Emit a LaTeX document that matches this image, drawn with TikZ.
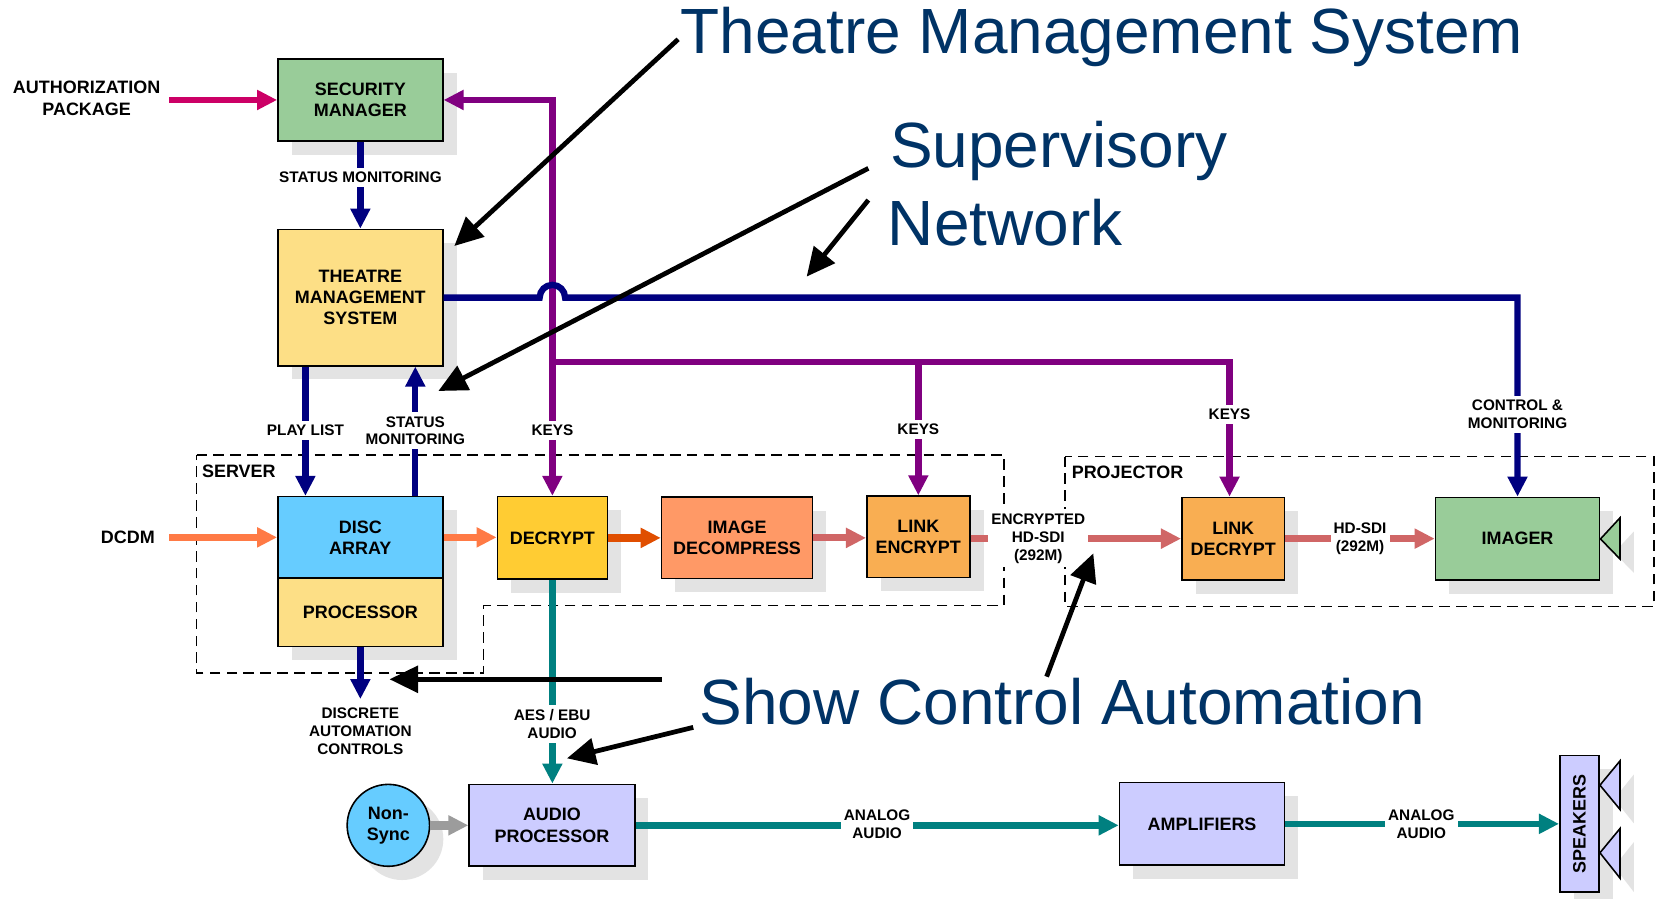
\documentclass[tikz,border=0pt]{standalone}
\usepackage{fontspec}
\setmainfont{Liberation Sans}
\usetikzlibrary{arrows.meta,shapes.geometric,shadows,calc}

\definecolor{navyc}{HTML}{000080}
\definecolor{purpc}{HTML}{800080}
\definecolor{authc}{HTML}{CC0066}
\definecolor{tealc}{HTML}{008080}
\definecolor{orA}{HTML}{FF7A45}
\definecolor{orB}{HTML}{E04E00}
\definecolor{pinkc}{HTML}{D06666}
\definecolor{grayc}{HTML}{9C9C9C}
\definecolor{titlec}{HTML}{003366}
\definecolor{shadec}{HTML}{E3E3E3}
\definecolor{greenf}{HTML}{99CC99}
\definecolor{yellf}{HTML}{FDDF86}
\definecolor{bluef}{HTML}{66CCFF}
\definecolor{goldf}{HTML}{FFCC33}
\definecolor{salmf}{HTML}{FF9966}
\definecolor{linkf}{HTML}{F9AE52}
\definecolor{lavf}{HTML}{CCCCFF}

\newcommand{\dgBoxFont}{\fontsize{17}{20}\selectfont\bfseries}
\newcommand{\dgLblFont}{\fontsize{14.5}{17}\selectfont\bfseries}
\newcommand{\dgTitleFont}{\fontsize{60.5}{72}\selectfont}

\tikzset{
  blk/.style={draw=black, line width=1.5pt, inner sep=0pt, align=center, font=\dgBoxFont,
    drop shadow={shadow xshift=13pt, shadow yshift=-13pt, opacity=1, fill=shadec}},
  lbl/.style={fill=white, inner xsep=3pt, inner ysep=4pt, align=center, font=\dgLblFont},
  plain/.style={inner sep=2pt, align=center, font=\dgBoxFont},
  arr/.style={-{Triangle[length=19pt,width=18pt]}},
  navyl/.style={draw=navyc, line width=6pt},
  purpl/.style={draw=purpc, line width=6pt},
  teall/.style={draw=tealc, line width=6pt},
  ann/.style={draw=black, line width=4.5pt, -{Triangle[length=27pt,width=25pt]}},
  ttl/.style={font=\dgTitleFont, text=titlec, inner sep=0pt, anchor=base west},
  dashbox/.style={draw=black, line width=1.6pt, dash pattern=on 10pt off 6pt},
  spkshade/.style={fill=shadec},
  spktri/.style={draw=black, line width=1.5pt, fill=lavf, line join=miter},
}

\begin{document}
\begin{tikzpicture}[x=1pt, y=-1pt]
\useasboundingbox[fill=white] (0,0) rectangle (1568,850);

% ---------- dashed regions ----------
\draw[dashbox] (186,430.6) -- (950,430.6) -- (950,573) -- (457.5,573) -- (457.5,637) -- (186,637) -- cycle;
\draw[dashbox] (1008,432) rectangle (1565,574);

% ---------- boxes ----------
\node[blk, fill=greenf, minimum width=156pt, minimum height=77.6pt] (sm) at (341,94.6) {SECURITY\\MANAGER};
\node[blk, fill=yellf, minimum width=156pt, minimum height=129pt] (tms) at (341,281.6) {THEATRE\\MANAGEMENT\\SYSTEM};
\node[blk, fill=bluef, minimum width=156pt, minimum height=77pt] (disc) at (341,508.5) {DISC\\ARRAY};
\node[blk, fill=yellf, minimum width=156pt, minimum height=65pt] (proc) at (341,579.3) {PROCESSOR};
\node[blk, fill=goldf, minimum width=104pt, minimum height=78pt] (decrypt) at (522.7,509) {DECRYPT};
\node[blk, fill=salmf, minimum width=143pt, minimum height=77pt] (decomp) at (697.5,509) {IMAGE\\DECOMPRESS};
\node[blk, fill=linkf, minimum width=97.5pt, minimum height=77pt] (lenc) at (869,508) {LINK\\ENCRYPT};
\node[blk, fill=linkf, minimum width=97.3pt, minimum height=78pt] (ldec) at (1167,509.7) {LINK\\DECRYPT};
\node[blk, fill=greenf, minimum width=155.3pt, minimum height=78pt] (imager) at (1436,509.7) {IMAGER};
\node[blk, fill=lavf, minimum width=156.7pt, minimum height=77.5pt] (audio) at (522.3,781) {AUDIO\\PROCESSOR};
\node[blk, fill=lavf, minimum width=156.3pt, minimum height=78pt] (amps) at (1137.5,779.6) {AMPLIFIERS};
\node[blk, ellipse, fill=bluef, minimum width=78pt, minimum height=77.5pt] (ns) at (367.5,781) {Non-\\Sync};
\node[blk, fill=lavf, minimum width=37pt, minimum height=129pt] (spk) at (1494.5,779.5) {};
\node[plain, rotate=90] (spkt) at (spk.center) {SPEAKERS};

% lens / speaker cones with shadows
\fill[spkshade] (1527.5,523) -- (1546,503) -- (1546,542) -- cycle;
\draw[spktri, fill=greenf] (1514.5,510) -- (1533,490) -- (1533,529) -- cycle;
\fill[spkshade] (1527.5,756) -- (1546,733) -- (1546,779) -- cycle;
\fill[spkshade] (1527.5,820) -- (1546,797) -- (1546,844) -- cycle;
\draw[spktri] (1514,743) -- (1533,720) -- (1533,766) -- cycle;
\draw[spktri] (1514,807) -- (1533,784) -- (1533,831) -- cycle;

% ---------- helper coordinates ----------
\coordinate (authout) at (160,94.6);
\coordinate (dcdmout) at (160,508.5);
\coordinate (plx) at (289,0);
\coordinate (smx) at (393,0);
\coordinate (k3) at (1163.5,0);
\coordinate (pj) at (522.7,342.8);

% ---------- connectors ----------
\draw[draw=authc, line width=5.5pt, arr] (authout) -- (sm.west);
\draw[navyc, line width=6pt, arr] (sm.south) -- (tms.north);
\draw[navyl, arr] (tms.south -| plx) -- (disc.north -| plx);
\draw[navyl, arr] (disc.north -| smx) -- (tms.south -| smx);
\draw[navyl, arr] (proc.south) -- ++(0,49);

\draw[purpl, {Triangle[length=19pt,width=18pt]}-{Triangle[length=19pt,width=18pt]}] (sm.east) -| (decrypt.north);
\draw[purpl, arr] (pj) -| (ldec.north -| k3);
\draw[purpl, arr] (pj -| lenc.north) -- (lenc.north);

\draw[navyl, arr] (tms.east) -- ($(pj |- tms.east)+(-12,0)$) arc (180:360:12) -- (tms.east -| imager.north) -- (imager.north);

\draw[draw=orA, line width=7pt, arr] (dcdmout) -- (disc.west);
\draw[draw=orA, line width=7pt, arr] (disc.east) -- (disc.east -| decrypt.west);
\draw[draw=orB, line width=7pt, arr] (decrypt.east) -- (decrypt.east -| decomp.west);
\draw[draw=pinkc, line width=6.5pt, arr] (decomp.east) -- (decomp.east -| lenc.west);
\draw[draw=pinkc, line width=6.5pt, arr] (lenc.east |- ldec.west) -- (ldec.west);
\draw[draw=pinkc, line width=6.5pt, arr] (ldec.east) -- (imager.west);

\draw[teall, arr] (decrypt.south) -- (decrypt.south |- audio.north);
\draw[teall, arr] (audio.east) -- (audio.east -| amps.west);
\draw[teall, arr] (amps.east) -- (amps.east -| spk.west);
\draw[draw=grayc, line width=8pt, arr] (ns.east) -- (ns.east -| audio.west);

% ---------- labels ----------
\node[plain] (auth) at (82,93) {AUTHORIZATION\\PACKAGE};
\node[plain] (dcdm) at (121,508) {DCDM};
\node[plain, anchor=west, inner sep=0pt] (server) at (191,446) {SERVER};
\node[plain, anchor=west, inner sep=0pt] (projector) at (1014,447.3) {PROJECTOR};
\node[lbl] (sm1) at (341,168) {STATUS MONITORING};
\node[lbl] (pl) at (289,407.5) {PLAY LIST};
\node[lbl] (sm2) at (393,407.6) {STATUS\\MONITORING};
\node[lbl] (keys1) at (522.7,407.5) {KEYS};
\node[lbl] (keys2) at (869,406.5) {KEYS};
\node[lbl] (keys3) at (1163.5,392) {KEYS};
\node[lbl] (ctrl) at (1436,392.3) {CONTROL \&\\MONITORING};
\node[lbl] (enc) at (982.5,509.4) {ENCRYPTED\\HD-SDI\\(292M)};
\node[lbl] (hdsdi) at (1287,509.4) {HD-SDI\\(292M)};
\node[lbl] (aes) at (522.5,685) {AES / EBU\\AUDIO};
\node[lbl] (discrete) at (341,692) {DISCRETE\\AUTOMATION\\CONTROLS};
\node[lbl] (an1) at (830,779.6) {ANALOG\\AUDIO};
\node[lbl] (an2) at (1345,779.6) {ANALOG\\AUDIO};

% ---------- annotations ----------
\node[ttl] (title1) at (644,51) {Theatre Management System};
\node[ttl] (sup1) at (842,158.7) {Supervisory};
\node[ttl] (sup2) at (840,232.5) {Network};
\node[ttl] (sca) at (662,686) {Show Control Automation};

\coordinate (a1s) at (641.7,37.2);  \coordinate (a1e) at (429.9,232.8);
\coordinate (a2s) at (821.7,159.3); \coordinate (a2e) at (414.8,370);
\coordinate (a3s) at (821.7,189.3); \coordinate (a3e) at (763.3,261.8);
\coordinate (a4s) at (626,642.8);   \coordinate (a4e) at (368.6,642.8);
\coordinate (a5s) at (656,688.3);   \coordinate (a5e) at (536.5,717.6);
\coordinate (a6s) at (990.4,640.3); \coordinate (a6e) at (1034.6,523.6);
\draw[ann] (a1s) -- (a1e);
\draw[ann] (a2s) -- (a2e);
\draw[ann] (a3s) -- (a3e);
\draw[ann] (a4s) -- (a4e);
\draw[ann] (a5s) -- (a5e);
\draw[ann] (a6s) -- (a6e);
\end{tikzpicture}
\end{document}
